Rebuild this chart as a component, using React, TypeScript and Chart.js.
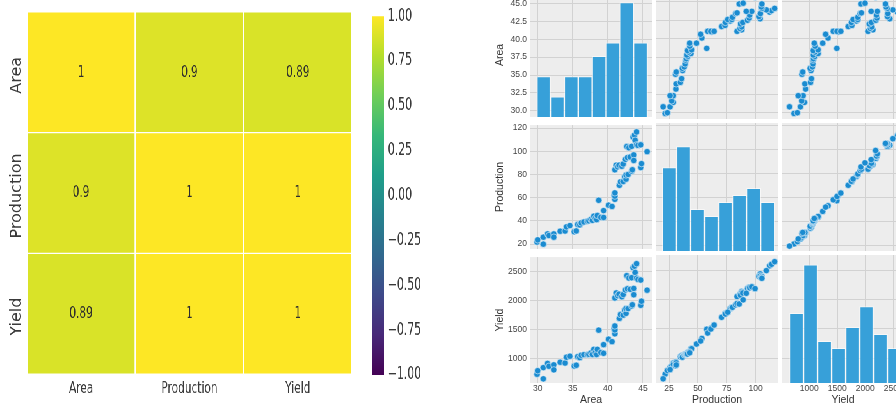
import { useEffect, useRef } from 'react';
import { Chart, registerables } from 'chart.js';

Chart.register(...registerables);

// ---- correlation heatmap data ----
const VARIABLES = ['Area', 'Production', 'Yield'];
const CORRELATION = [
  [1, 0.9, 0.89],
  [0.9, 1, 1],
  [0.89, 1, 1],
];
const COLORBAR_TICKS = [-1, -0.75, -0.5, -0.25, 0, 0.25, 0.5, 0.75, 1];

// ---- observations (one entry per record) ----
const AREA = [
  29.9, 30.0, 30.8, 30.8, 31.4, 31.6, 32.3, 32.3, 33.2, 33.9,
  34.1, 34.6, 35.2, 35.5, 35.7, 36.0, 36.2, 36.6, 37.1, 37.3,
  37.6, 37.8, 38.0, 38.2, 38.4, 38.5, 38.7, 39.0, 39.4, 39.4,
  40.1, 40.6, 40.9, 41.0, 41.0, 41.0, 41.0, 41.2, 41.4, 41.6,
  41.65, 41.8, 42.0, 42.2, 42.2, 42.4, 42.5, 42.6, 42.6, 42.7,
  42.8, 42.9, 43.0, 43.2, 43.4, 43.4, 43.5, 43.6, 43.7, 43.7,
  43.8, 43.9, 44.1, 44.1, 44.3, 44.7, 44.7, 44.8, 45.6,
];
const PRODUCTION = [
  21.7, 23.6, 25.9, 19.9, 28.7, 27.3, 28.7, 25.9, 31.0, 31.2,
  34.8, 35.9, 30.6, 31.3, 36.8, 36.5, 38.2, 39.0, 39.6, 40.0,
  41.2, 40.4, 44.0, 42.0, 41.0, 44.6, 57.7, 43.0, 42.9, 48.8,
  53.5, 52.4, 62.0, 58.5, 61.3, 64.1, 84.0, 88.0, 86.5, 88.0,
  70.6, 73.6, 87.0, 73.9, 89.0, 78.0, 93.0, 75.9, 79.5, 104.0,
  94.5, 80.0, 103.0, 95.0, 82.8, 104.2, 84.0, 112.2, 96.8, 92.0,
  113.9, 109.4, 105.5, 116.6, 105.0, 105.5, 85.9, 89.3, 99.6,
];
const YIELD = [
  726, 787, 841, 646, 914, 864, 889, 802, 934, 920,
  1021, 1038, 869, 882, 1031, 1014, 1055, 1066, 1067, 1072,
  1096, 1069, 1158, 1099, 1068, 1158, 1491, 1103, 1089, 1239,
  1334, 1291, 1516, 1427, 1495, 1563, 2049, 2136, 2089, 2115,
  1695, 1761, 2071, 1751, 2109, 1840, 2188, 1782, 1866, 2436,
  2208, 1865, 2395, 2199, 1908, 2401, 1931, 2573, 2215, 2105,
  2600, 2492, 2392, 2644, 2370, 2360, 1922, 1993, 2184,
];

// ---- histogram bins and counts for the diagonal ----
const AREA_BIN_EDGES = [29.86, 31.84, 33.81, 35.79, 37.76, 39.74, 41.71, 43.69, 45.66];
const AREA_COUNTS = [6, 3, 6, 6, 9, 11, 17, 11];
const PRODUCTION_BIN_EDGES = [19.2, 31.38, 43.56, 55.74, 67.92, 80.1, 92.28, 104.46, 116.64];
const PRODUCTION_COUNTS = [12, 15, 6, 5, 7, 8, 9, 7];
const YIELD_BIN_EDGES = [647, 897, 1147, 1397, 1647, 1897, 2147, 2397, 2647];
const YIELD_COUNTS = [10, 17, 6, 5, 8, 11, 7, 5];
const HIST_MAX = 18.4;

// ---- axis ticks and limits ----
const AREA_TICKS_ROW = [30, 32.5, 35, 37.5, 40, 42.5, 45];
const AREA_TICKS_COL = [30, 35, 40, 45];
const PRODUCTION_TICKS_ROW = [20, 40, 60, 80, 100, 120];
const PRODUCTION_TICKS_COL = [25, 50, 75, 100];
const YIELD_TICKS_ROW = [1000, 1500, 2000, 2500];
const YIELD_TICKS_COL = [1000, 1500, 2000, 2500];
const ROW_LIMITS = [[29.15, 46.45], [15.8, 122.5], [574, 2758]];
const COL_LIMITS = [[28.9, 46.3], [13.7, 119.5], [512, 2691]];

const SERIES = [AREA, PRODUCTION, YIELD];
const BIN_EDGES = [AREA_BIN_EDGES, PRODUCTION_BIN_EDGES, YIELD_BIN_EDGES];
const COUNTS = [AREA_COUNTS, PRODUCTION_COUNTS, YIELD_COUNTS];
const ROW_TICKS = [AREA_TICKS_ROW, PRODUCTION_TICKS_ROW, YIELD_TICKS_ROW];
const COL_TICKS = [AREA_TICKS_COL, PRODUCTION_TICKS_COL, YIELD_TICKS_COL];
const ROW_FORMAT = [(v: number) => v.toFixed(1), (v: number) => String(v), (v: number) => String(v)];

// ---- styling ----
const VIRIDIS = ['#440154', '#482878', '#3e4989', '#31688e', '#26828e', '#1f9e89', '#35b779', '#6ece58', '#b5de2b', '#fde725'];
const HEAT_FONT = 'DejaVu Sans';
const HEAT_TEXT = '#3a3a3a';
const SQUEEZE = 0.64; // horizontal compression of the heatmap block
const HEAT_W = 566;
const BAR_W = 138;
const PAIR_FONT = "'Liberation Sans', Arial, sans-serif";
const PANEL_BG = '#ededed';
const GRID_COLOR = '#d2d2d2';
const BAR_COLOR = '#37a0d9';
const POINT_COLOR = '#1a8bd0';
const PANEL_LEFT = [530, 656, 782];
const PANEL_TOP = [-9, 123, 255];
const PANEL_W = 122;
const PANEL_H = 128;

function hexToRgb(h: string) {
  const n = parseInt(h.slice(1), 16);
  return [(n >> 16) & 255, (n >> 8) & 255, n & 255];
}

function viridis(t: number) {
  const x = Math.min(1, Math.max(0, t)) * (VIRIDIS.length - 1);
  const i = Math.min(VIRIDIS.length - 2, Math.floor(x));
  const f = x - i;
  const a = hexToRgb(VIRIDIS[i]);
  const b = hexToRgb(VIRIDIS[i + 1]);
  const c = a.map((v, k) => Math.round(v + (b[k] - v) * f));
  return `rgb(${c[0]}, ${c[1]}, ${c[2]})`;
}

// writes each correlation value in the middle of its cell
const cellValues = {
  id: 'cellValues',
  afterDatasetsDraw(chart: any) {
    const { ctx } = chart;
    ctx.save();
    ctx.font = `16.5px ${HEAT_FONT}`;
    ctx.fillStyle = '#2e2e2e';
    ctx.textAlign = 'center';
    ctx.textBaseline = 'middle';
    chart.data.datasets.forEach((_: any, r: number) => {
      const meta = chart.getDatasetMeta(r);
      meta.data.forEach((el: any, c: number) => {
        const { x, y, base } = el.getProps(['x', 'y', 'base'], true);
        ctx.fillText(String(CORRELATION[r][c]), x, (y + base) / 2);
      });
    });
    ctx.restore();
  },
};

// vertical row names on the left of the heatmap, drawn without the block's squeeze
const rowNames = {
  id: 'rowNames',
  afterDraw(chart: any) {
    const { ctx } = chart;
    const yScale = chart.scales.y;
    ctx.save();
    ctx.font = `16px ${HEAT_FONT}`;
    ctx.fillStyle = HEAT_TEXT;
    ctx.textAlign = 'center';
    ctx.textBaseline = 'middle';
    VARIABLES.forEach((name, r) => {
      const cy = yScale.getPixelForValue(r + 0.5) + 3;
      ctx.save();
      ctx.translate(17 / SQUEEZE, cy);
      ctx.scale(1 / SQUEEZE, 1);
      ctx.rotate(-Math.PI / 2);
      ctx.fillText(name, 0, 0);
      ctx.restore();
    });
    ctx.restore();
  },
};

const panelBackground = {
  id: 'panelBackground',
  beforeDraw(chart: any) {
    const { ctx, chartArea: a } = chart;
    ctx.save();
    ctx.fillStyle = PANEL_BG;
    ctx.fillRect(a.left, a.top, a.right - a.left, a.bottom - a.top);
    ctx.restore();
  },
};

function heatmapConfig(): any {
  return {
    type: 'bar',
    data: {
      labels: VARIABLES,
      datasets: CORRELATION.map((row, r) => ({
        label: VARIABLES[r],
        data: row.map(() => [r, r + 1]),
        backgroundColor: row.map((v) => viridis((v + 1) / 2)),
        borderColor: '#ffffff',
        borderWidth: { top: 0.9, bottom: 0.9, left: 1.4, right: 1.4 },
        borderSkipped: false,
        grouped: false,
        barPercentage: 1,
        categoryPercentage: 1,
      })),
    },
    options: {
      responsive: false,
      animation: false,
      devicePixelRatio: 1,
      layout: { padding: { left: 42, right: 16, top: 12, bottom: 0 } },
      plugins: { legend: { display: false }, tooltip: { enabled: false } },
      scales: {
        x: {
          type: 'category',
          offset: true,
          grid: { display: false, drawTicks: false },
          border: { display: false },
          ticks: { font: { family: HEAT_FONT, size: 16.5 }, color: HEAT_TEXT, padding: 5, maxRotation: 0 },
          afterFit: (s: any) => { s.height = 32; },
        },
        y: { type: 'linear', min: 0, max: 3, reverse: true, display: false },
      },
    },
    plugins: [cellValues, rowNames],
  };
}

function colorbarConfig(): any {
  return {
    type: 'bar',
    data: {
      labels: [''],
      datasets: [{
        data: [[-1, 1]],
        backgroundColor: (c: any) => {
          const area = c.chart.chartArea;
          if (!area) return viridis(0.5);
          const g = c.chart.ctx.createLinearGradient(0, area.bottom, 0, area.top);
          VIRIDIS.forEach((col, i) => g.addColorStop(i / (VIRIDIS.length - 1), col));
          return g;
        },
        borderWidth: 0,
        barPercentage: 1,
        categoryPercentage: 1,
      }],
    },
    options: {
      responsive: false,
      animation: false,
      devicePixelRatio: 1,
      layout: { padding: { left: 15.3, right: 0, top: 12, bottom: 31 } },
      plugins: { legend: { display: false }, tooltip: { enabled: false } },
      scales: {
        x: { display: false },
        y: {
          position: 'right',
          min: -1,
          max: 1,
          afterBuildTicks: (s: any) => { s.ticks = COLORBAR_TICKS.map((value) => ({ value })); },
          ticks: {
            font: { family: HEAT_FONT, size: 17 },
            color: HEAT_TEXT,
            padding: 6,
            callback: (v: number) => v.toFixed(2).replace('-', '\u2212'),
          },
          grid: { display: false, drawTicks: false },
          border: { display: false },
          afterFit: (s: any) => { s.width = 104; },
        },
      },
    },
  };
}

function panelConfig(r: number, c: number): any {
  const diag = r === c;
  const datasets: any[] = [];
  if (diag) {
    const edges = BIN_EDGES[c];
    datasets.push({
      type: 'bar',
      data: COUNTS[c].map((n, i) => ({ x: (edges[i] + edges[i + 1]) / 2, y: n })),
      yAxisID: 'count',
      backgroundColor: BAR_COLOR,
      borderColor: 'rgba(255,255,255,0.55)',
      borderWidth: 1,
      barPercentage: 1,
      categoryPercentage: 1,
    });
  } else {
    datasets.push({
      type: 'scatter',
      data: SERIES[c].map((v, i) => ({ x: v, y: SERIES[r][i] })),
      pointRadius: 3.2,
      backgroundColor: POINT_COLOR,
      borderColor: 'rgba(255,255,255,0.9)',
      borderWidth: 0.6,
      clip: 0,
    });
  }
  const scales: any = {
    x: {
      type: 'linear',
      min: COL_LIMITS[c][0],
      max: COL_LIMITS[c][1],
      offset: false,
      afterBuildTicks: (s: any) => { s.ticks = COL_TICKS[c].map((value) => ({ value })); },
      grid: { color: GRID_COLOR, lineWidth: 1, drawTicks: false, offset: false },
      border: { display: false },
      ticks: {
        display: r === 2,
        autoSkip: false,
        maxRotation: 0,
        font: { family: PAIR_FONT, size: 8.5 },
        color: '#444444',
        padding: 1,
        callback: (v: number) => String(v),
      },
      title: {
        display: r === 2,
        text: VARIABLES[c],
        font: { family: PAIR_FONT, size: 10.5 },
        color: '#333333',
        padding: { top: 0, bottom: 4 },
      },
      afterFit: (s: any) => { s.height = r === 2 ? 27 : 0; },
    },
    y: {
      type: 'linear',
      position: 'left',
      min: ROW_LIMITS[r][0],
      max: ROW_LIMITS[r][1],
      afterBuildTicks: (s: any) => { s.ticks = ROW_TICKS[r].map((value) => ({ value })); },
      grid: { color: GRID_COLOR, lineWidth: 1, drawTicks: false },
      border: { display: false },
      ticks: {
        display: c === 0,
        autoSkip: false,
        font: { family: PAIR_FONT, size: 8.5 },
        color: '#444444',
        padding: 3,
        callback: (v: number) => ROW_FORMAT[r](v),
      },
      title: {
        display: c === 0,
        text: VARIABLES[r],
        font: { family: PAIR_FONT, size: 10.5 },
        color: '#333333',
        padding: { top: 4, bottom: 0 },
      },
      afterFit: (s: any) => { s.width = c === 0 ? 40 : 0; },
    },
  };
  if (diag) scales.count = { type: 'linear', min: 0, max: HIST_MAX, display: false };
  return {
    type: 'scatter',
    data: { datasets },
    options: {
      responsive: false,
      animation: false,
      devicePixelRatio: 1,
      layout: { padding: { left: c === 0 ? 0 : 6, right: c === 2 ? 16 : 6, top: 6, bottom: r === 2 ? 0 : 6 } },
      plugins: { legend: { display: false }, tooltip: { enabled: false } },
      scales,
    },
    plugins: [panelBackground],
  };
}

function ChartCanvas({ make, left, top, width, height }: any) {
  const ref = useRef<HTMLCanvasElement>(null);
  useEffect(() => {
    const chart = new Chart(ref.current as HTMLCanvasElement, make());
    return () => chart.destroy();
  }, []);
  return (
    <canvas
      ref={ref}
      width={width}
      height={height}
      style={{ position: 'absolute', left, top, width, height }}
    />
  );
}

export default function App() {
  const panels: any[] = [];
  for (let r = 0; r < 3; r++) {
    for (let c = 0; c < 3; c++) {
      const padL = c === 0 ? 40 : 6;
      const padR = c === 2 ? 16 : 6;
      const padB = r === 2 ? 27 : 6;
      panels.push(
        <ChartCanvas
          key={`${r}-${c}`}
          make={() => panelConfig(r, c)}
          left={PANEL_LEFT[c] - padL}
          top={PANEL_TOP[r] - 6}
          width={PANEL_W + padL + padR}
          height={PANEL_H + 6 + padB}
        />
      );
    }
  }
  return (
    <div style={{ position: 'fixed', left: 0, top: 0, width: 896, height: 406, overflow: 'hidden', background: '#ffffff' }}>
      <div
        style={{
          position: 'absolute',
          left: 0,
          top: 0,
          width: HEAT_W + BAR_W,
          height: 406,
          transform: `scaleX(${SQUEEZE})`,
          transformOrigin: '0 0',
        }}
      >
        <ChartCanvas make={heatmapConfig} left={0} top={0} width={HEAT_W} height={406} />
        <ChartCanvas make={colorbarConfig} left={HEAT_W} top={0} width={BAR_W} height={406} />
      </div>
      {panels}
    </div>
  );
}
